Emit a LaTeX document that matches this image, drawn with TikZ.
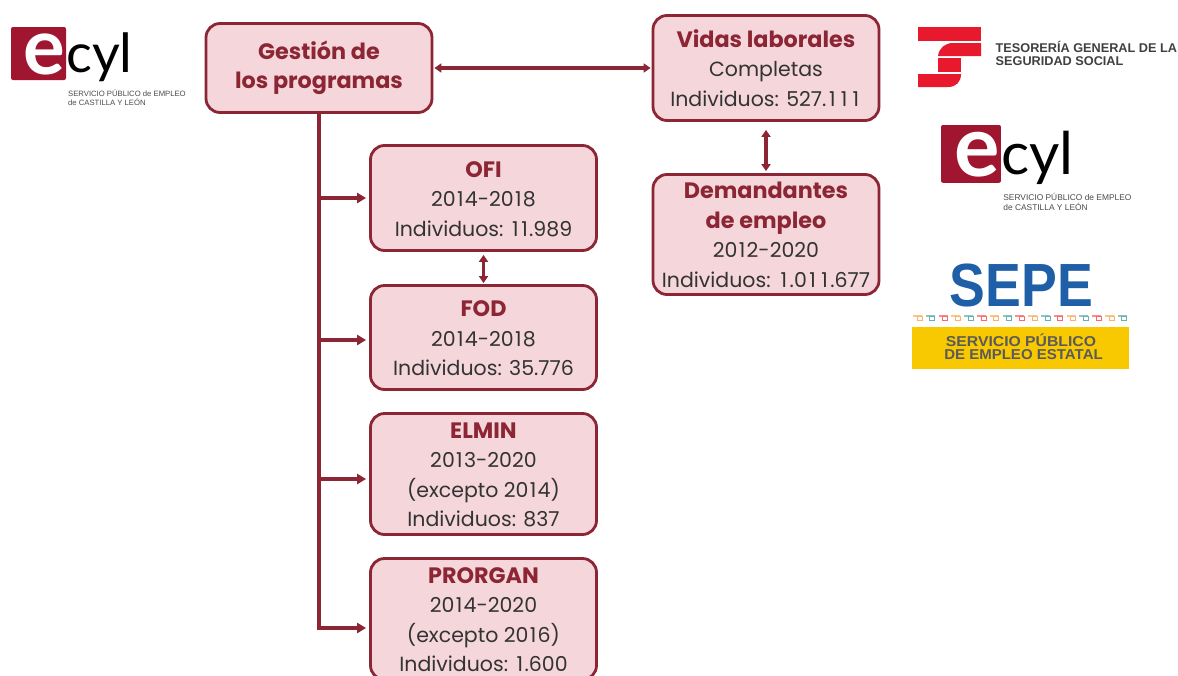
\documentclass[tikz,border=0pt]{standalone}
\usepackage{fontspec}
\setmainfont{Poppins}
\newfontfamily\arialf{Liberation Sans}
\newfontfamily\latof{Lato}
\usetikzlibrary{arrows.meta,calc}
\definecolor{wine}{HTML}{8C2534}
\definecolor{rosa}{HTML}{F4D6DB}
\definecolor{body}{HTML}{333333}
\definecolor{logored}{HTML}{A01530}
\definecolor{tgssred}{HTML}{E8192C}
\definecolor{sepeblue}{HTML}{1F5FA8}
\definecolor{sepeyellow}{HTML}{F8C800}
\definecolor{sepegrey}{HTML}{5A5A5A}
\newcommand{\ttl}[1]{{\rule{0pt}{17.5pt}\fontsize{22.3}{29.5}\selectfont\bfseries\color{wine}#1}}
\newcommand{\one}{\kern1.3pt 1\kern1.3pt}
\newcommand{\oneb}{\kern2.6pt 1\kern2.6pt}
\tikzset{
  prog/.style={draw=wine,line width=2.8pt,fill=rosa,rounded corners=14pt,
    minimum width=226pt,inner sep=0pt,align=center,text=body,
    font=\fontsize{20.5}{29.5}\selectfont},
  link/.style={draw=wine,line width=3.2pt},
  tipr/.style={-{Triangle[length=9pt,width=10pt]},link,shorten >=3pt},
  tipb/.style={{Triangle[length=7pt,width=9pt]}-{Triangle[length=7pt,width=9pt]},link},
  bar/.style={fill=tgssred,draw=none},
  smalltxt/.style={anchor=west,inner sep=0pt,text=black!70,font=\arialf\fontsize{7.7}{9}\selectfont}
}
\newcommand{\ecyllogo}[2]{%
 \begin{scope}[shift={#1},scale=#2,every node/.append style={transform shape}]
  \fill[logored,rounded corners=2pt] (0,0) rectangle (55,53);
  \node[inner sep=0pt,text=white,font=\latof\bfseries\fontsize{78}{78}\selectfont,anchor=base] at (33,47) {e};
  \node[inner sep=0pt,text=black,font=\latof\fontsize{54}{54}\selectfont,anchor=base west] at (55,45) {cyl};
  \node[smalltxt] at (57,66) {SERVICIO PÚBLICO de EMPLEO};
  \node[smalltxt] at (57,75) {de CASTILLA Y LEÓN};
 \end{scope}}
\begin{document}
\begin{tikzpicture}[x=1pt,y=-1pt]
\useasboundingbox (0,0) rectangle (1178,675);
\clip (0,0) rectangle (1178,675);
\fill[white] (0,0) rectangle (1178,675);

% boxes
\node[prog,minimum height=89pt] (ges) at (319,68) {\ttl{Gestión de}\\\ttl{los programas}};
\node[prog,minimum height=105pt] (vid) at (766,68) {\ttl{Vidas laborales}\\Completas\\Individuos: 527.\oneb\oneb\oneb};
\node[prog,minimum height=120pt] (dem) at (766,234.5) {\ttl{Demandantes}\\\ttl{de empleo}\\20\one2-2020\\Individuos: \oneb.0\oneb\oneb.677};
\node[prog,minimum height=105pt] (ofi) at (483.5,198) {\ttl{OFI}\\20\one4-20\one8\\Individuos: \one\one.989};
\node[prog,minimum height=104pt] (fod) at (483.5,337.5) {\ttl{FOD}\\20\one4-20\one8\\Individuos: 35.776};
\node[prog,minimum height=121pt] (elm) at (483.5,474) {\ttl{ELMIN}\\20\one3-2020\\(excepto 20\one4)\\Individuos: 837};
\node[prog,minimum height=121pt] (pro) at (483.5,619) {\ttl{PRORGAN}\\20\one4-2020\\(excepto 20\one6)\\Individuos: \one.600};

% connectors
\coordinate (c1) at (ges.south |- 0,198);
\coordinate (c2) at (ges.south |- 0,340);
\coordinate (c3) at (ges.south |- 0,479);
\coordinate (c4) at (ges.south |- 0,628);
\draw[link,line cap=rect] (ges.south) -- (c4);
\draw[tipr] (c4) -- (c4 -| pro.west);
\draw[tipr] (c1) -- (c1 -| ofi.west);
\draw[tipr] (c2) -- (c2 -| fod.west);
\draw[tipr] (c3) -- (c3 -| elm.west);
\draw[tipb,shorten <=1pt,shorten >=1pt] (ges.east) -- (vid.west);
\draw[tipb,shorten <=8pt,shorten >=2pt] (vid.south) -- (dem.north);
\draw[tipb,shorten <=3pt,shorten >=1pt] (ofi.south) -- (fod.north);

% ecyl logos
\ecyllogo{(11,27)}{1}
\ecyllogo{(941,125)}{1.09}

% tesoreria logo
\fill[bar] (918,27) rectangle (981,41);
\fill[bar] (938,56) .. controls (939,48) and (945,43) .. (953,43) -- (981,43) -- (981,56) -- cycle;
\fill[bar] (938,58) rectangle (961,72);
\fill[bar] (918,74) -- (961,74) .. controls (961,82) and (956,87) .. (948,87) -- (918,87) -- cycle;
\node[anchor=west,inner sep=0pt,text=black!75,font=\arialf\bfseries\fontsize{12.7}{14}\selectfont] (tg1) at (995.5,47) {TESORERÍA GENERAL DE LA};
\node[anchor=west,inner sep=0pt,text=black!75,font=\arialf\bfseries\fontsize{12.7}{14}\selectfont] (tg2) at (995.5,61) {SEGURIDAD SOCIAL};

% SEPE logo
\node[inner sep=0pt,text=sepeblue,font=\arialf\bfseries\fontsize{61}{61}\selectfont,xscale=.88,anchor=base] (sp) at (1021.5,306) {SEPE};
\foreach \i/\c in {0/orange,1/teal,2/red,3/orange,4/teal,5/red,6/orange,7/teal,8/red,9/orange,10/teal,11/red,12/orange,13/teal,14/red,15/orange,16/teal}{
  \fill[\c!45] ({913+\i*12.8},314.5) rectangle ++(9,2.2);
  \draw[\c!60,line width=1pt] ({917+\i*12.8},316.5) rectangle ++(5,3.5);
}
\fill[sepeyellow] (912,327) rectangle (1129,369);
\node[inner sep=0pt,xscale=1.1,text=sepegrey,font=\arialf\bfseries\fontsize{14.3}{15}\selectfont] (se1) at (1021,340) {SERVICIO PÚBLICO};
\node[inner sep=0pt,xscale=1.05,text=sepegrey,font=\arialf\bfseries\fontsize{14.3}{15}\selectfont] (se2) at (1023.5,355) {DE EMPLEO ESTATAL};
\end{tikzpicture}
\end{document}
